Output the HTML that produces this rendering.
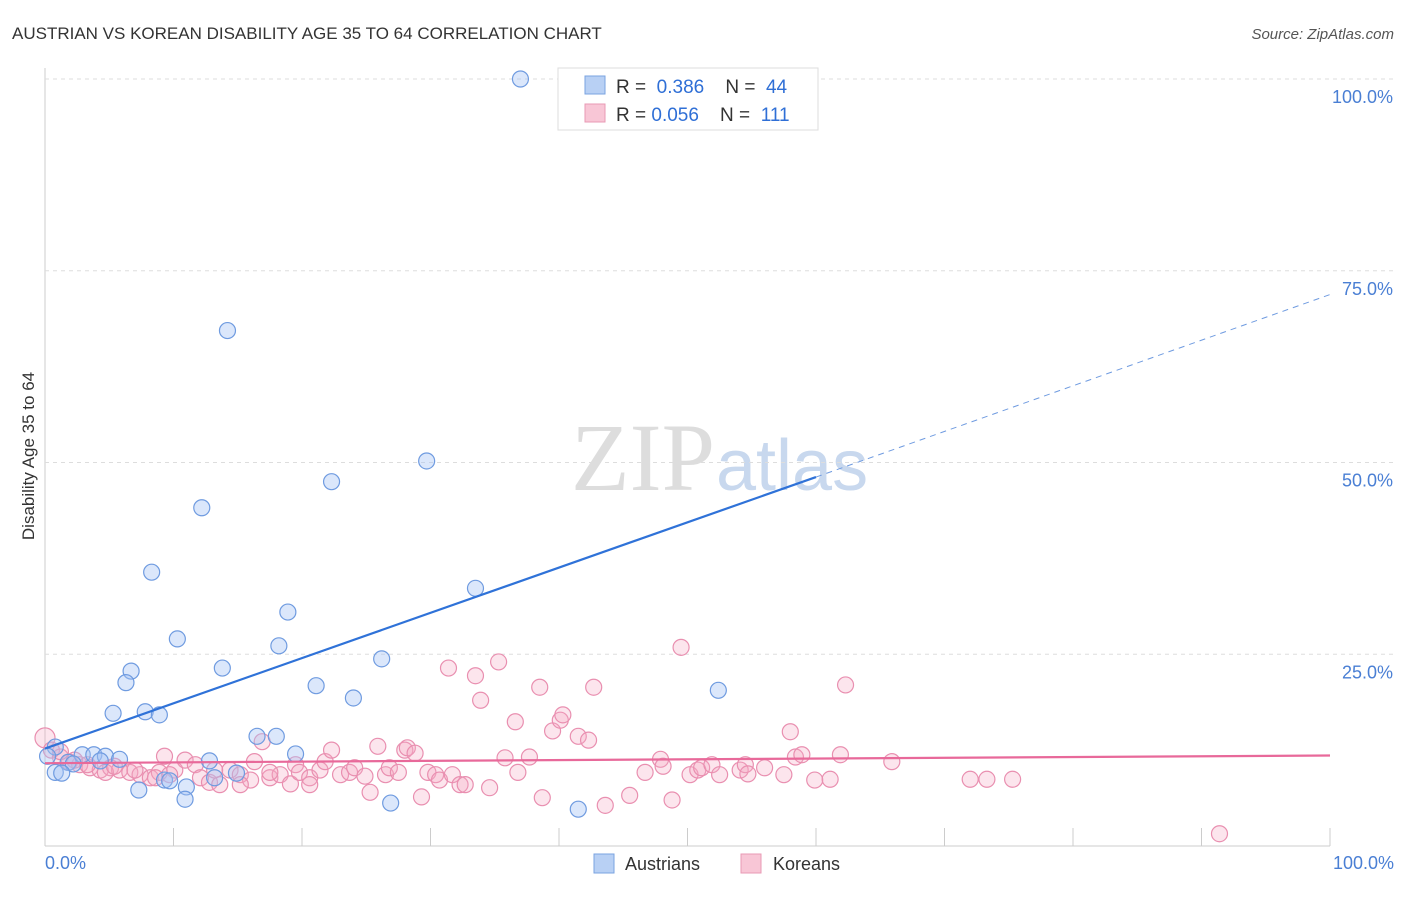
<!DOCTYPE html>
<html><head><meta charset="utf-8"><style>
body{margin:0;background:#fff;font-family:"Liberation Sans",sans-serif}
</style></head><body>
<svg id="c" width="1406" height="892" xmlns="http://www.w3.org/2000/svg">
<text x="12" y="39" font-size="17" fill="#333">AUSTRIAN VS KOREAN DISABILITY AGE 35 TO 64 CORRELATION CHART</text>
<text x="1394" y="39" font-size="15" fill="#555" font-style="italic" text-anchor="end">Source: ZipAtlas.com</text>
<text x="715" y="490" font-size="96" fill="#ddd" text-anchor="end" font-family="Liberation Serif,serif">ZIP</text>
<text x="716" y="490" font-size="72" fill="#c8d8ee">atlas</text>
<g id="grid"></g><g id="pts"></g><g id="lines"></g>
<text transform="translate(34,456) rotate(-90)" font-size="17" fill="#333" text-anchor="middle">Disability Age 35 to 64</text>
<text x="45" y="869" font-size="18" fill="#4a7fd4">0.0%</text>
<text x="1394" y="869" font-size="18" fill="#4a7fd4" text-anchor="end">100.0%</text>
<g>
<rect x="558" y="68" width="260" height="62" fill="#fff" stroke="#ddd"/>
<rect x="585" y="76" width="20" height="18" fill="#b8d0f4" stroke="#7aa3e0"/>
<rect x="585" y="104" width="20" height="18" fill="#f8c6d6" stroke="#e89ab4"/>
<text x="616" y="93" font-size="19" fill="#333" xml:space="preserve">R =  <tspan fill="#2f6fd6">0.386</tspan>    N =  <tspan fill="#2f6fd6">44</tspan></text>
<text x="616" y="121" font-size="19" fill="#333" xml:space="preserve">R = <tspan fill="#2f6fd6">0.056</tspan>    N =  <tspan fill="#2f6fd6">111</tspan></text>
</g>
<g>
<rect x="594" y="854" width="20" height="19" fill="#b8d0f4" stroke="#7aa3e0"/>
<text x="625" y="870" font-size="18" fill="#333">Austrians</text>
<rect x="741" y="854" width="20" height="19" fill="#f8c6d6" stroke="#e89ab4"/>
<text x="773" y="870" font-size="18" fill="#333">Koreans</text>
</g>
</svg>
<script>
const yTicks=[25,50,75,100];
const yTickLabels=["25.0%","50.0%","75.0%","100.0%"];
const xTicks=[0,10,20,30,40,50,60,70,80,90,100];
const ausX=[37,14.2,29.7,22.3,12.2,8.3,33.5,18.9,10.3,18.2,26.2,6.7,13.8,6.3,21.1,52.4,24,5.3,7.8,8.9,16.5,18,0.8,19.5,2.9,3.8,4.7,5.8,12.8,1.8,2.2,0.8,1.3,14.9,13.2,9.3,9.7,7.3,11,10.9,26.9,41.5,4.3,0.2];
const ausY=[100,67.2,50.2,47.5,44.1,35.7,33.6,30.5,27,26.1,24.4,22.8,23.2,21.3,20.9,20.3,19.3,17.3,17.5,17.1,14.3,14.3,12.9,12,11.9,11.9,11.7,11.3,11.1,10.9,10.7,9.6,9.5,9.5,8.9,8.6,8.5,7.3,7.7,6.1,5.6,4.8,11.1,11.7];
const korX=[0,0.5,1.2,1.9,2.7,3.5,4.3,5.1,5.8,6.6,7.4,8.2,8.9,9.3,10.1,10.9,11.7,12.1,12.8,13.6,14.4,15.2,16.0,16.3,16.9,17.5,18.3,19.1,19.5,19.8,20.6,21.4,21.8,22.3,23.0,23.7,24.1,24.9,25.3,25.9,26.5,26.8,27.5,28.0,28.2,28.8,29.3,29.8,30.4,30.7,31.4,31.7,32.3,32.7,33.5,33.9,34.6,35.3,35.8,36.6,36.8,37.7,38.5,38.7,39.5,40.1,40.3,41.5,42.3,42.7,43.6,45.5,46.7,47.9,48.1,48.8,49.5,50.2,50.8,51.1,51.9,52.5,54.1,54.5,54.7,56.0,57.5,58.0,58.4,58.9,59.9,61.1,61.9,62.3,65.9,72.0,73.3,75.3,91.4,1.2,2.3,3.3,4.7,5.4,7.0,8.6,9.7,13.2,15.2,17.5,20.6];
const korY=[14.1,12.5,11.6,10.95,10.6,10.2,9.9,10.2,9.9,9.6,9.3,8.9,9.6,11.7,9.9,11.2,10.6,8.9,8.3,8.0,9.9,9.3,8.6,11.0,13.6,8.9,9.3,8.1,10.6,9.6,8.9,9.9,11.0,12.5,9.3,9.6,10.2,9.1,7.0,13.0,9.3,10.2,9.6,12.5,12.8,12.1,6.4,9.6,9.3,8.6,23.2,9.3,8.0,8.0,22.2,19.0,7.6,24.0,11.5,16.2,9.6,11.6,20.7,6.3,15.0,16.4,17.1,14.3,13.8,20.7,5.3,6.6,9.6,11.3,10.4,6.0,25.9,9.3,9.9,10.2,10.6,9.3,9.9,10.6,9.4,10.2,9.3,14.9,11.6,11.9,8.6,8.7,11.9,21.0,11.0,8.7,8.7,8.7,1.6,12.3,11.2,10.6,9.6,10.4,9.9,8.9,9.3,9.9,8.0,9.6,8.0];
const blueLine=[0,12.7,60,48.1,100,71.9];
const pinkLine=[0,10.8,100,11.8];
const X=v=>45+v*12.85, Y=v=>846-v*7.67;
const NS="http://www.w3.org/2000/svg";
function mk(t,a,p){const e=document.createElementNS(NS,t);for(const k in a)e.setAttribute(k,a[k]);p.appendChild(e);return e;}
const grid=document.getElementById('grid');
const ax=mk('line',{x1:45,y1:68,x2:45,y2:846,stroke:'#ccc'},grid);


const bx=mk('line',{x1:45,y1:846,x2:1330,y2:846,stroke:'#ccc'},grid);


yTicks.forEach((t,i)=>{
 const g=mk('line',{x1:45,y1:Y(t),x2:1394,y2:Y(t),stroke:'#ddd','stroke-dasharray':'4,4'},grid);
 
 
 const l=mk('text',{x:1393,y:Y(t)+24,'font-size':18,fill:'#4a7fd4','text-anchor':'end'},grid);
 l.textContent=yTickLabels[i];
 
 
});
xTicks.forEach(t=>{
 const k=mk('line',{x1:X(t),y1:828,x2:X(t),y2:846,stroke:'#ccc'},grid);
 
 
});
const pts=document.getElementById('pts');
korX.forEach((v,i)=>{
 const c=mk('circle',{cx:X(v),cy:Y(korY[i]),r:i==0?10:8,fill:'rgba(244,170,195,0.3)',stroke:'#e98fb0','stroke-width':1.2},pts);
 
 
});
ausX.forEach((v,i)=>{
 const c=mk('circle',{cx:X(v),cy:Y(ausY[i]),r:8,fill:'rgba(164,194,244,0.4)',stroke:'#6f9be0','stroke-width':1.2},pts);
 
 
});
const L=document.getElementById('lines');
const b1=mk('line',{x1:X(blueLine[0]),y1:Y(blueLine[1]),x2:X(blueLine[2]),y2:Y(blueLine[3]),stroke:'#2f72d8','stroke-width':2.2},L);


const b2=mk('line',{x1:X(blueLine[2]),y1:Y(blueLine[3]),x2:X(blueLine[4]),y2:Y(blueLine[5]),stroke:'#6f9be0','stroke-width':1,'stroke-dasharray':'6,5'},L);


const p1=mk('line',{x1:X(pinkLine[0]),y1:Y(pinkLine[1]),x2:X(pinkLine[2]),y2:Y(pinkLine[3]),stroke:'#e8699a','stroke-width':2.2},L);


</script>
</body></html>
